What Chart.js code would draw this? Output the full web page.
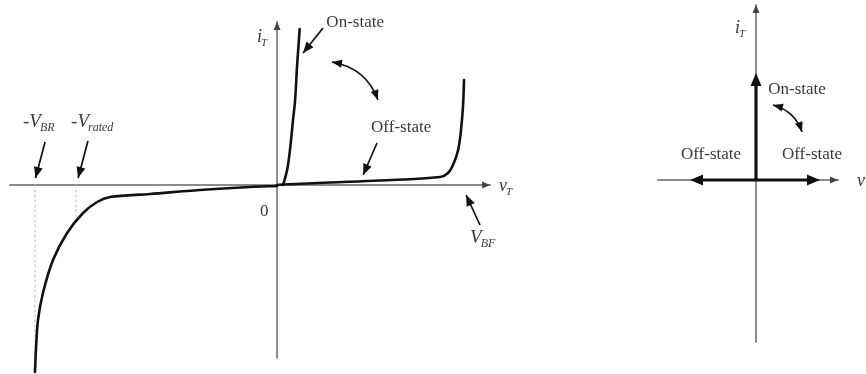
<!DOCTYPE html>
<html><head><meta charset="utf-8">
<script src="https://cdn.jsdelivr.net/npm/chart.js@4"></script>
<style>
html,body{margin:0;padding:0;background:#fff;}
#wrap{position:relative;width:866px;height:374px;overflow:hidden;background:#fff;}
canvas{position:absolute;top:0;}
#iv{left:0;}
#states{left:620px;}
</style></head><body>
<div id="wrap"><canvas id="iv" width="560" height="374"></canvas><canvas id="states" width="246" height="374"></canvas></div>
<script>
// Thyristor i-v characteristic (normalised units: v / V_BF, i arbitrary)
const reverseV = [0, -0.142, -0.405, -0.668, -0.879, -0.947, -1.021, -1.105, -1.179, -1.232, -1.258, -1.268, -1.274];
const reverseI = [-0.01, -0.02, -0.05, -0.09, -0.12, -0.17, -0.28, -0.48, -0.75, -1.08, -1.35, -1.62, -1.87];
const forwardOffV = [0, 0.032, 0.279, 0.542, 0.858, 0.9, 0.926, 0.953, 0.968, 0.979, 0.984];
const forwardOffI = [0, 0.005, 0.025, 0.045, 0.08, 0.12, 0.2, 0.35, 0.55, 0.8, 1.05];
const onStateV = [0.032, 0.053, 0.068, 0.084, 0.095, 0.105, 0.113, 0.119];
const onStateI = [0, 0.15, 0.35, 0.65, 0.85, 1.18, 1.4, 1.56];
const vBreakdown = -1.274;   // -V_BR
const vRated = -1.058;       // -V_rated
const vRatedCurrent = -0.35; // reverse current at -V_rated
const vBreakover = 1.0;      // V_BF

// Idealised switch: on-state current, reverse and forward blocking voltages
const idealOnI = 1.07;
const idealOffLeftV = -0.66;
const idealOffRightV = 0.64;

const stateLabels = ['On-state', 'Off-state'];

const ink = '#111';
const axisGrey = '#8c8c8c';
const textGrey = '#3a3a3a';
const serif = '"Liberation Serif", "DejaVu Serif", serif';

function pts(xs, ys) { return xs.map((x, k) => ({x, y: ys[k]})); }

function head(ctx, x0, y0, x1, y1, len, w, color) {
  const ang = Math.atan2(y1 - y0, x1 - x0);
  ctx.save();
  ctx.translate(x1, y1); ctx.rotate(ang);
  ctx.beginPath(); ctx.moveTo(0, 0); ctx.lineTo(-len, w / 2); ctx.lineTo(-len, -w / 2); ctx.closePath();
  ctx.fillStyle = color; ctx.fill();
  ctx.restore();
}

// Draws arrowheads on flagged datasets, pointer arrows and the text labels
const decor = {
  id: 'decor',
  afterDatasetsDraw(chart, args, opts) {
    const ctx = chart.ctx, xs = chart.scales.x, ys = chart.scales.y;
    const P = (v, i) => [xs.getPixelForValue(v), ys.getPixelForValue(i)];
    chart.data.datasets.forEach((ds, k) => {
      if (!ds.head) return;
      const d = chart.getDatasetMeta(k).data;
      const a = d[d.length - 2], b = d[d.length - 1];
      head(ctx, a.x, a.y, b.x, b.y, ds.head.len, ds.head.w, ds.head.color);
    });
    (opts.pointers || []).forEach(p => {
      const [x0, y0] = P(...p.from), [x1, y1] = P(...p.to);
      ctx.save();
      ctx.strokeStyle = ink; ctx.lineWidth = p.lw || 1.7;
      if (p.ctrl) {
        const [cx, cy] = P(...p.ctrl);
        ctx.beginPath(); ctx.moveTo(x0, y0); ctx.quadraticCurveTo(cx, cy, x1, y1); ctx.stroke();
        head(ctx, cx, cy, x0, y0, 10, 8, ink);
        head(ctx, cx, cy, x1, y1, 10, 8, ink);
      } else {
        ctx.beginPath(); ctx.moveTo(x0, y0); ctx.lineTo(x1, y1); ctx.stroke();
        head(ctx, x0, y0, x1, y1, 11, 9, ink);
      }
      ctx.restore();
    });
    (opts.texts || []).forEach(t => {
      const [x, y] = P(...t.at);
      ctx.save();
      ctx.fillStyle = textGrey;
      ctx.textBaseline = 'middle';
      ctx.font = (t.italic ? 'italic ' : '') + t.size + 'px ' + serif;
      if (t.sub) {
        ctx.textAlign = 'left';
        ctx.fillText(t.text, x, y);
        const w = ctx.measureText(t.text).width;
        ctx.font = 'italic ' + Math.round(t.size * 0.62) + 'px ' + serif;
        ctx.fillText(t.sub, x + w - 1, y + t.size * 0.32);
      } else {
        ctx.textAlign = 'center';
        ctx.fillText(t.text, x, y);
      }
      ctx.restore();
    });
  }
};

function baseOptions(xr, yr, decorOpts) {
  return {
    responsive: false, animation: false, events: [],
    layout: {padding: 0},
    scales: {
      x: {type: 'linear', min: xr[0], max: xr[1], display: false},
      y: {type: 'linear', min: yr[0], max: yr[1], display: false}
    },
    elements: {point: {radius: 0}, line: {borderCapStyle: 'round', borderJoinStyle: 'round'}},
    plugins: {legend: {display: false}, tooltip: {enabled: false}, decor: decorOpts}
  };
}

const axisHead = {len: 8, w: 7, color: '#444'};

// Left panel: full characteristic (lower "order" is painted on top)
new Chart(document.getElementById('iv'), {
  type: 'scatter',
  data: {datasets: [
    {order: 1, data: pts(reverseV, reverseI), showLine: true, borderColor: ink, borderWidth: 2.6, tension: 0.35},
    {order: 1, data: pts(forwardOffV, forwardOffI), showLine: true, borderColor: ink, borderWidth: 2.6, tension: 0.35},
    {order: 1, data: pts(onStateV, onStateI), showLine: true, borderColor: ink, borderWidth: 2.6, tension: 0.35},
    {order: 2, data: pts([vBreakdown, vBreakdown], [0, -1.85]), showLine: true, borderColor: '#bdbdbd', borderWidth: 1, borderDash: [2, 3]},
    {order: 2, data: pts([vRated, vRated], [0, vRatedCurrent]), showLine: true, borderColor: '#bdbdbd', borderWidth: 1, borderDash: [2, 3]},
    {order: 3, data: pts([-1.405, 1.121], [0, 0]), showLine: true, borderColor: axisGrey, borderWidth: 2, head: axisHead},
    {order: 3, data: pts([0, 0], [-1.73, 1.63]), showLine: true, borderColor: axisGrey, borderWidth: 2, head: axisHead}
  ]},
  options: baseOptions([-1.458, 1.489], [-1.89, 1.85], {
    pointers: [
      {from: [-1.221, 0.43], to: [vBreakdown + 0.003, 0.07]},
      {from: [-0.995, 0.44], to: [vRated + 0.011, 0.07]},
      {from: [0.242, 1.57], to: [0.137, 1.32]},
      {from: [0.289, 1.23], ctrl: [0.47, 1.17], to: [0.531, 0.85]},
      {from: [0.526, 0.42], to: [0.453, 0.10]},
      {from: [1.068, -0.40], to: [vBreakover - 0.005, -0.10]}
    ],
    texts: [
      {text: stateLabels[0], at: [0.411, 1.62], size: 17},
      {text: stateLabels[1], at: [0.653, 0.57], size: 17},
      {text: '0', at: [-0.068, -0.27], size: 17},
      {text: 'i', sub: 'T', at: [-0.105, 1.48], size: 18, italic: true},
      {text: 'v', sub: 'T', at: [1.168, -0.01], size: 18, italic: true},
      {text: 'V', sub: 'BF', at: [1.016, -0.53], size: 19, italic: true},
      {text: '-V', sub: 'BR', at: [-1.337, 0.63], size: 19, italic: true},
      {text: '-V', sub: 'rated', at: [-1.084, 0.63], size: 19, italic: true}
    ]
  }),
  plugins: [decor]
});

// Right panel: idealised switch
const bigHead = {len: 13, w: 11, color: ink};
new Chart(document.getElementById('states'), {
  type: 'scatter',
  data: {datasets: [
    {order: 1, data: pts([0, 0], [0, idealOnI - 0.08]), showLine: true, borderColor: ink, borderWidth: 3.2, borderCapStyle: 'butt'},
    {order: 1, data: pts([0, idealOffLeftV + 0.08], [0, 0]), showLine: true, borderColor: ink, borderWidth: 3.2, borderCapStyle: 'butt'},
    {order: 1, data: pts([0, idealOffRightV - 0.08], [0, 0]), showLine: true, borderColor: ink, borderWidth: 3.2, borderCapStyle: 'butt'},
    {order: 1, data: pts([0, 0], [idealOnI - 0.1, idealOnI]), showLine: false, head: bigHead},
    {order: 1, data: pts([idealOffLeftV + 0.1, idealOffLeftV], [0, 0]), showLine: false, head: bigHead},
    {order: 1, data: pts([idealOffRightV - 0.1, idealOffRightV], [0, 0]), showLine: false, head: bigHead},
    {order: 3, data: pts([-0.98, 0.82], [0, 0]), showLine: true, borderColor: axisGrey, borderWidth: 2, head: axisHead},
    {order: 3, data: pts([0, 0], [-1.62, 1.75]), showLine: true, borderColor: axisGrey, borderWidth: 2, head: axisHead}
  ]},
  options: baseOptions([-1.36, 1.10], [-1.94, 1.80], {
    pointers: [
      {from: [0.17, 0.75], ctrl: [0.39, 0.69], to: [0.46, 0.48]}
    ],
    texts: [
      {text: stateLabels[0], at: [0.41, 0.90], size: 17},
      {text: stateLabels[1], at: [-0.45, 0.25], size: 17},
      {text: stateLabels[1], at: [0.56, 0.25], size: 17},
      {text: 'v', at: [1.05, -0.01], size: 18, italic: true},
      {text: 'i', sub: 'T', at: [-0.21, 1.52], size: 18, italic: true}
    ]
  }),
  plugins: [decor]
});
</script>
</body></html>
